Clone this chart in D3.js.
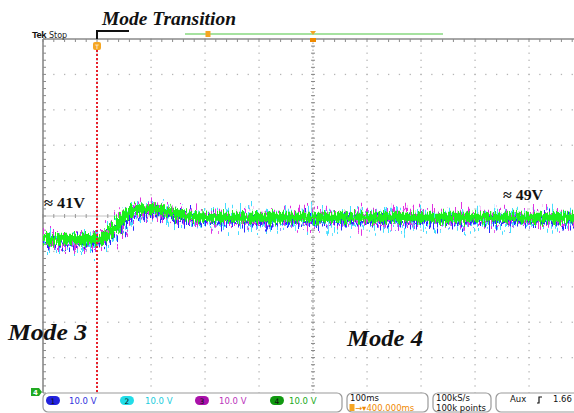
<!DOCTYPE html>
<html>
<head>
<meta charset="utf-8">
<script src="https://cdn.jsdelivr.net/npm/d3@7/dist/d3.min.js"></script>
<style>
  html, body { margin: 0; padding: 0; background: #fff; }
  svg { display: block; }
</style>
</head>
<body>
<script>
// Sample times (ms from left edge of the record) and channel voltages
const timeMs   = [0, 60, 100, 110, 120, 130, 143, 156, 175, 198, 220, 250, 280, 320, 400, 500, 600, 700, 800, 900, 1000];
const ch4Volts = [41, 41, 41, 41.4, 42.5, 44.4, 47.3, 50.4, 51.8, 52.2, 51.5, 50.2, 49.3, 49, 49, 49, 49, 49, 49, 49, 49];
const ch1Volts = [39.8, 39.8, 39.8, 40.1, 41.2, 43.0, 45.9, 49.0, 50.5, 51.0, 50.3, 49.0, 48.1, 47.9, 47.9, 47.9, 47.9, 47.9, 47.9, 47.9, 47.9];
const ch2Volts = [40.0, 40.0, 40.0, 40.3, 41.4, 43.3, 46.2, 49.3, 50.8, 51.3, 50.6, 49.3, 48.4, 48.1, 48.1, 48.1, 48.1, 48.1, 48.1, 48.1, 48.1];
const ch3Volts = [40.6, 40.6, 40.6, 41.0, 42.1, 44.0, 46.9, 50.0, 51.5, 51.9, 51.2, 49.9, 49.0, 48.7, 48.7, 48.7, 48.7, 48.7, 48.7, 48.7, 48.7];

const transitionMs = 100;
const levelLabels = [{ text: "\u2248 41V", t: 2, v: 52.5, w: 41 }, { text: "\u2248 49V", t: 852, v: 55.5, w: 40 }];
const modeLabels = [{ text: "Mode 3", px: 8, py: 340, w: 79 }, { text: "Mode 4", px: 347, py: 346, w: 76 }];

const channels = [
  { id: "1", scale: "10.0 V", fill: "#2222dd", text: "#3333dd", trace: "#2a2aff", values: ch1Volts },
  { id: "2", scale: "10.0 V", fill: "#22dde8", text: "#22ccdd", trace: "#44ddff", values: ch2Volts },
  { id: "3", scale: "10.0 V", fill: "#aa11aa", text: "#bb33bb", trace: "#e030e0", values: ch3Volts },
  { id: "4", scale: "10.0 V", fill: "#119911", text: "#22aa22", trace: "#1ef01e", values: ch4Volts }
];

const W = 574, H = 413;
const plot = { left: 43, right: 583, top: 39, bottom: 393 };

const svg = d3.select("body").append("svg").attr("width", W).attr("height", H);
const defs = svg.append("defs");

// Screen scales: graticule divisions, time and volts
const xDiv = d3.scaleLinear().domain([0, 10]).range([plot.left, plot.right]);
const yDiv = d3.scaleLinear().domain([0, 10]).range([plot.bottom, plot.top]);
const x = d3.scaleLinear().domain([0, 1000]).range([plot.left, plot.right]);
const y = d3.scaleLinear().domain([-15, 114]).range([plot.bottom, plot.top]);

defs.append("clipPath").attr("id", "plotClip").append("rect")
  .attr("x", plot.left).attr("y", plot.top).attr("width", plot.right - plot.left).attr("height", plot.bottom - plot.top);

// Graticule: dotted division lines
const grid = svg.append("g");
const minorX = d3.range(0, 10.001, 0.2);
const minorY = d3.range(0, 10.001, 0.2);
for (let i = 1; i < 10; i++) {
  if (i === 5) continue;
  grid.selectAll(null).data(minorX).enter().append("rect")
    .attr("x", d => xDiv(d) - 0.6).attr("y", yDiv(i) - 0.6).attr("width", 1.3).attr("height", 1.3).attr("fill", "#b5b5b5");
  grid.selectAll(null).data(minorY).enter().append("rect")
    .attr("x", xDiv(i) - 0.6).attr("y", d => yDiv(d) - 0.6).attr("width", 1.3).attr("height", 1.3).attr("fill", "#b5b5b5");
}
// Centre cross with minor ticks
grid.append("line").attr("x1", plot.left).attr("x2", plot.right).attr("y1", yDiv(5)).attr("y2", yDiv(5))
  .attr("stroke", "#c4c4c4").attr("stroke-width", 1);
grid.append("line").attr("x1", xDiv(5)).attr("x2", xDiv(5)).attr("y1", plot.top).attr("y2", plot.bottom)
  .attr("stroke", "#999").attr("stroke-width", 1).attr("stroke-dasharray", "1.5,2");
grid.selectAll(null).data(minorX).enter().append("line")
  .attr("x1", d => xDiv(d)).attr("x2", d => xDiv(d)).attr("y1", yDiv(5) - 2).attr("y2", yDiv(5) + 2)
  .attr("stroke", "#999").attr("stroke-width", 1);
grid.selectAll(null).data(minorY).enter().append("line")
  .attr("x1", xDiv(5) - 2).attr("x2", xDiv(5) + 2).attr("y1", d => yDiv(d)).attr("y2", d => yDiv(d))
  .attr("stroke", "#888").attr("stroke-width", 1);

// Frame: top and left edges with ticks
grid.append("line").attr("x1", plot.left).attr("x2", W).attr("y1", plot.top).attr("y2", plot.top)
  .attr("stroke", "#8a8a8a").attr("stroke-width", 1.6);
grid.selectAll(null).data(minorX).enter().append("line")
  .attr("x1", d => xDiv(d)).attr("x2", d => xDiv(d)).attr("y1", plot.top).attr("y2", plot.top + 3)
  .attr("stroke", "#8a8a8a").attr("stroke-width", 1);
grid.append("line").attr("x1", plot.left).attr("x2", plot.left).attr("y1", plot.top).attr("y2", plot.bottom)
  .attr("stroke", "#8a8a8a").attr("stroke-width", 1.6);
grid.selectAll(null).data(minorY).enter().append("line")
  .attr("x1", plot.left).attr("x2", plot.left + 3).attr("y1", d => yDiv(d)).attr("y2", d => yDiv(d))
  .attr("stroke", "#8a8a8a").attr("stroke-width", 1);

// Noise texture filters for the acquired traces
const seeds = [11, 23, 37, 5];
const noiseScale = [30, 46, 44, 16];
const noiseFreq = ["0.75 0.08", "0.7 0.07", "0.7 0.07", "0.9 0.1"];
channels.forEach((c, i) => {
  const f = defs.append("filter").attr("id", "noise" + c.id)
    .attr("x", "-2%").attr("y", "-300%").attr("width", "104%").attr("height", "700%")
    .attr("filterUnits", "objectBoundingBox");
  f.append("feTurbulence").attr("type", "fractalNoise")
    .attr("baseFrequency", noiseFreq[i]).attr("numOctaves", 2).attr("seed", seeds[i]).attr("result", "n");
  f.append("feDisplacementMap").attr("in", "SourceGraphic").attr("in2", "n")
    .attr("scale", noiseScale[i]).attr("xChannelSelector", "A").attr("yChannelSelector", "G");
});

const line = d3.line().x((d, i) => x(timeMs[i])).y(d => y(d)).curve(d3.curveMonotoneX);
const traces = svg.append("g").attr("clip-path", "url(#plotClip)");
const order = [1, 0, 2, 3];
const widths = [6, 6, 5, 9];
order.forEach(i => {
  const c = channels[i];
  traces.append("g").attr("filter", `url(#noise${c.id})`)
    .append("path").datum(c.values).attr("d", line)
    .attr("fill", "none").attr("stroke", c.trace)
    .attr("stroke-width", widths[i]);
});

// Mode transition cursor
svg.append("line").attr("x1", x(transitionMs)).attr("x2", x(transitionMs)).attr("y1", 50).attr("y2", plot.bottom)
  .attr("stroke", "#e8202a").attr("stroke-width", 2).attr("stroke-dasharray", "2,2");
svg.append("rect").attr("x", x(transitionMs) - 4).attr("y", 42).attr("width", 8).attr("height", 8).attr("rx", 2)
  .attr("fill", "#f5a623");
svg.append("text").attr("x", x(transitionMs)).attr("y", 49).attr("text-anchor", "middle")
  .attr("font-family", "DejaVu Sans").attr("font-size", 6).attr("fill", "#fff").text("T");
svg.append("path")
  .attr("d", `M${x(transitionMs)},${plot.top}V31H129`)
  .attr("fill", "none").attr("stroke", "#111").attr("stroke-width", 2);
svg.append("text").attr("x", 102).attr("y", 25)
  .attr("font-family", "Liberation Serif").attr("font-weight", "bold").attr("font-style", "italic")
  .attr("font-size", 19).attr("textLength", 134).attr("lengthAdjust", "spacingAndGlyphs")
  .attr("fill", "#111").text("Mode Transition");

// Record view bar and markers
svg.append("line").attr("x1", 185).attr("x2", 443).attr("y1", 34).attr("y2", 34)
  .attr("stroke", "#a6e2a0").attr("stroke-width", 2);
svg.append("rect").attr("x", 205.5).attr("y", 31).attr("width", 5).attr("height", 6).attr("fill", "#f5a623");
svg.append("path").attr("d", `M${xDiv(5) - 3},31L${xDiv(5) + 3},31L${xDiv(5)},35Z`).attr("fill", "#f5a623");
svg.append("rect").attr("x", xDiv(5) - 3).attr("y", 38).attr("width", 6).attr("height", 4).attr("fill", "#f08a00");

// Status text
svg.append("text").attr("x", 32).attr("y", 37.5)
  .attr("font-family", "Liberation Sans").attr("font-size", 9.5).attr("font-weight", "bold").attr("fill", "#111")
  .attr("letter-spacing", -0.6).text("Tek");
svg.append("text").attr("x", 49).attr("y", 37.5)
  .attr("font-family", "DejaVu Sans").attr("font-size", 8).attr("fill", "#222").text("Stop");

// Level annotations
svg.selectAll(null).data(levelLabels).enter().append("text")
  .attr("x", d => x(d.t)).attr("y", d => y(d.v))
  .attr("font-family", "Liberation Serif").attr("font-weight", "bold").attr("font-size", 15)
  .attr("textLength", d => d.w).attr("lengthAdjust", "spacingAndGlyphs")
  .attr("fill", "#111").text(d => d.text);
svg.selectAll(null).data(modeLabels).enter().append("text")
  .attr("x", d => d.px).attr("y", d => d.py)
  .attr("font-family", "Liberation Serif").attr("font-weight", "bold").attr("font-style", "italic")
  .attr("font-size", 23).attr("textLength", d => d.w).attr("lengthAdjust", "spacingAndGlyphs")
  .attr("fill", "#111").text(d => d.text);

// Ground reference marker for channel 4
svg.append("path").attr("d", "M31,388H39L42,392L39,396H31Z").attr("fill", "#22aa22");
svg.append("text").attr("x", 35.5).attr("y", 395).attr("text-anchor", "middle")
  .attr("font-family", "DejaVu Sans").attr("font-size", 7).attr("font-weight", "bold").attr("fill", "#fff").text("4");

// Bottom readout panels
const panels = [[43, 342], [347, 428], [433, 491], [496, 590]];
svg.selectAll(null).data(panels).enter().append("rect")
  .attr("x", d => d[0]).attr("y", 393).attr("width", d => d[1] - d[0]).attr("height", 19).attr("rx", 5)
  .attr("fill", "#fff").attr("stroke", "#9a9a9a").attr("stroke-width", 1.2);

const badgeX = [53, 127, 202, 277];
const scaleX = [69, 145, 219, 289];
channels.forEach((c, i) => {
  svg.append("rect").attr("x", badgeX[i] - 7).attr("y", 396).attr("width", 14).attr("height", 9).attr("rx", 4.5)
    .attr("fill", c.fill);
  svg.append("text").attr("x", badgeX[i]).attr("y", 403.5).attr("text-anchor", "middle")
    .attr("font-family", "DejaVu Sans").attr("font-size", 7.5).attr("fill", "#111").text(c.id);
  svg.append("text").attr("x", scaleX[i]).attr("y", 404)
    .attr("font-family", "DejaVu Sans").attr("font-size", 8.5).attr("fill", c.text).text(c.scale);
});

const sans = "DejaVu Sans";
svg.append("text").attr("x", 350).attr("y", 401).attr("font-family", sans).attr("font-size", 8.5).attr("fill", "#111").text("100ms");
svg.append("rect").attr("x", 349.5).attr("y", 404).attr("width", 5).attr("height", 7).attr("fill", "#f5a623");
svg.append("text").attr("x", 355).attr("y", 411).attr("font-family", sans).attr("font-size", 8.5).attr("fill", "#f08a00").text("\u2192\u25BE400.000ms");
svg.append("text").attr("x", 436).attr("y", 401).attr("font-family", sans).attr("font-size", 8.5).attr("fill", "#111").text("100kS/s");
svg.append("text").attr("x", 436).attr("y", 411).attr("font-family", sans).attr("font-size", 8.5).attr("fill", "#111").text("100k points");
svg.append("text").attr("x", 510).attr("y", 402).attr("font-family", sans).attr("font-size", 8.5).attr("fill", "#111").text("Aux");
svg.append("path").attr("d", "M537,403H539V397H542").attr("fill", "none").attr("stroke", "#111").attr("stroke-width", 1.2);
svg.append("text").attr("x", 553).attr("y", 402).attr("font-family", sans).attr("font-size", 8.5).attr("fill", "#111").text("1.66");
</script>
</body>
</html>
